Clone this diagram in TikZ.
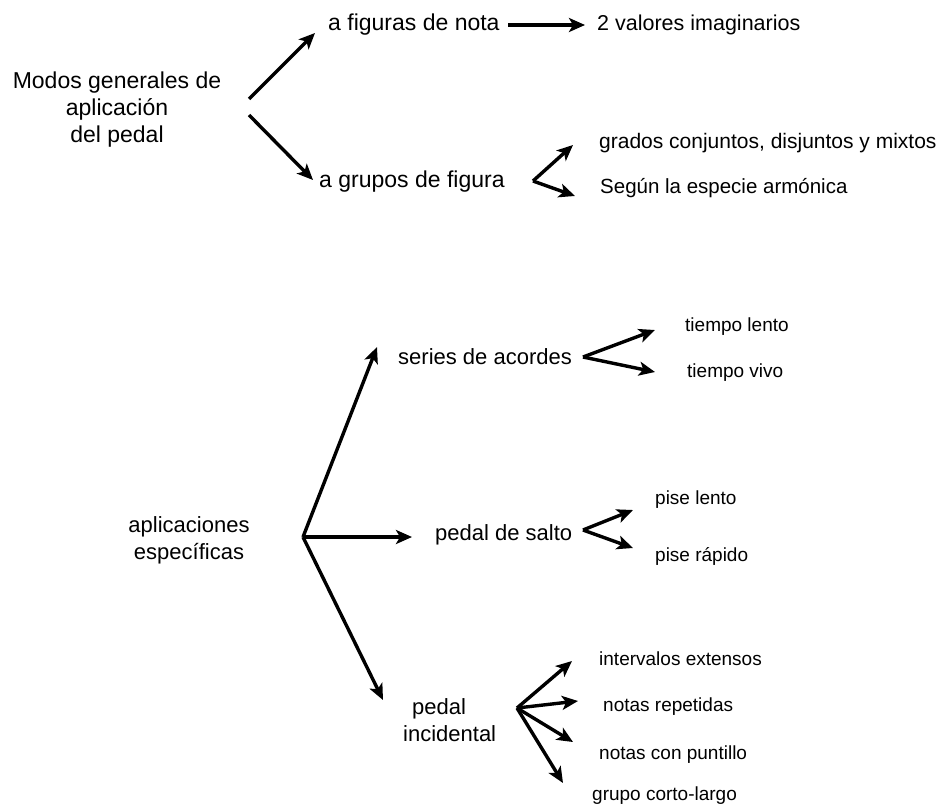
\documentclass[tikz,border=0pt]{standalone}
\usepackage{fontspec}
\setmainfont{Liberation Sans}
\usetikzlibrary{arrows.meta}
\begin{document}
\begin{tikzpicture}[x=1pt,y=-1pt,
  arr/.style={line width=3.4pt,-{Stealth[length=16pt,width=14pt,inset=4pt]}},
  big/.style={font=\fontsize{23}{27}\selectfont,inner sep=0pt},
  mid/.style={font=\fontsize{22}{27}\selectfont,inner sep=0pt},
  rcol/.style={font=\fontsize{21}{25}\selectfont,inner sep=0pt,anchor=west},
  small/.style={font=\fontsize{19}{23}\selectfont,inner sep=0pt,anchor=west}]
\useasboundingbox (0,0) rectangle (945,806);
% top part
\node[big,align=center] (modos) at (117,110) {Modos generales de\\aplicación\\del pedal};
\node[big,anchor=west] (fig) at (328,25) {a figuras de nota};
\node[rcol,font=\fontsize{21.5}{25}\selectfont] (val) at (597,25) {2 valores imaginarios};
\node[big,anchor=west] (grp) at (319,182) {a grupos de figura};
\node[rcol] (grad) at (599,143) {grados conjuntos, disjuntos y mixtos};
\node[rcol,font=\fontsize{20.5}{25}\selectfont] (seg) at (600,188) {Según la especie armónica};
\coordinate (m1) at (249,99);
\coordinate (m1e) at (315,33);
\coordinate (m2) at (249,115);
\coordinate (m2e) at (313,180);
\coordinate (f1) at (508,25);
\coordinate (f1e) at (585,25);
\coordinate (gv) at (533,181);
\coordinate (gu) at (573,145);
\coordinate (gd) at (575,196);
\draw[arr] (m1) -- (m1e);
\draw[arr] (m2) -- (m2e);
\draw[arr] (f1) -- (f1e);
\draw[arr] (gv) -- (gu);
\draw[arr] (gv) -- (gd);
% bottom part
\node[mid,align=center] (apl) at (189,540) {aplicaciones\\específicas};
\node[mid,anchor=west] (ser) at (398,357) {series de acordes};
\node[mid,anchor=west] (sal) at (435,535) {pedal de salto};
\node[mid,align=left,anchor=west] (inc) at (403,720) {\hspace*{9pt}pedal\\incidental};
\node[small] (tl) at (685,327) {tiempo lento};
\node[small] (tv) at (687,373) {tiempo vivo};
\node[small] (pl) at (655,500) {pise lento};
\node[small] (pr) at (655,556) {pise rápido};
\node[small] (ie) at (599,659) {intervalos extensos};
\node[small] (nr) at (603,707) {notas repetidas};
\node[small] (np) at (599,755) {notas con puntillo};
\node[small] (gc) at (592,796) {grupo corto-largo};
\coordinate (hub) at (303,537);
\coordinate (hs) at (377,347);
\coordinate (hp) at (412,537);
\coordinate (hi) at (383,700);
\coordinate (sv) at (583,357);
\coordinate (su) at (655,330);
\coordinate (sd) at (655,372);
\coordinate (pv) at (583,530);
\coordinate (pu) at (633,510);
\coordinate (pd) at (633,548);
\coordinate (iv) at (517,708);
\coordinate (i1) at (572,661);
\coordinate (i2) at (578,701);
\coordinate (i3) at (573,742);
\coordinate (i4) at (563,783);
\draw[arr] (hub) -- (hs);
\draw[arr] (hub) -- (hp);
\draw[arr] (hub) -- (hi);
\draw[arr] (sv) -- (su);
\draw[arr] (sv) -- (sd);
\draw[arr] (pv) -- (pu);
\draw[arr] (pv) -- (pd);
\draw[arr] (iv) -- (i1);
\draw[arr] (iv) -- (i2);
\draw[arr] (iv) -- (i3);
\draw[arr] (iv) -- (i4);
\end{tikzpicture}
\end{document}
